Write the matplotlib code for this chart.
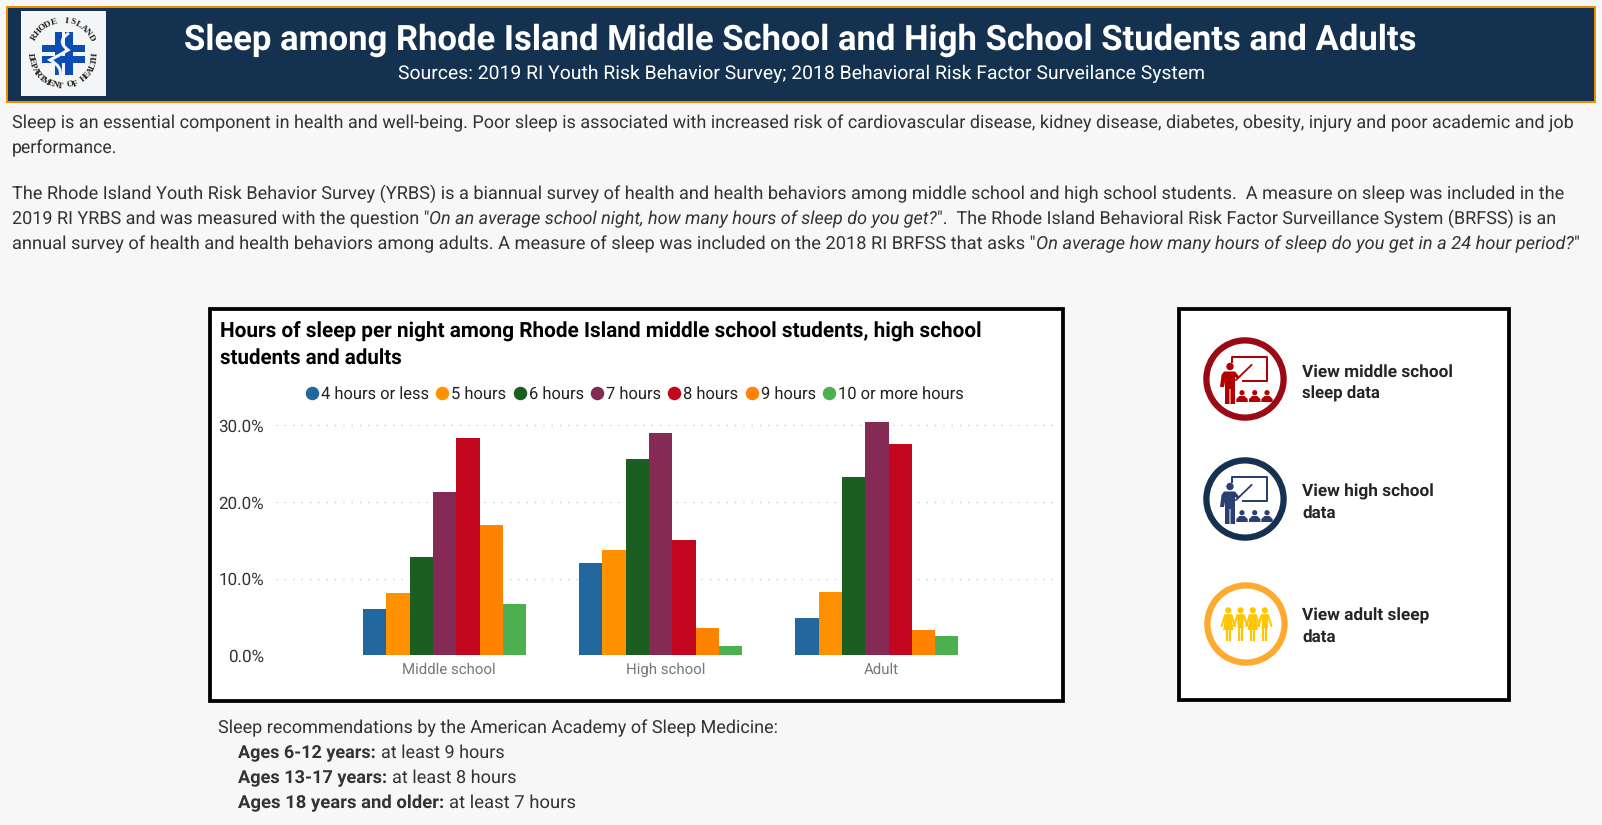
import numpy as np
import matplotlib
matplotlib.use("Agg")
import matplotlib.pyplot as plt
from matplotlib.lines import Line2D
from matplotlib.patches import Circle, Polygon, Rectangle, PathPatch
from matplotlib.path import Path
from matplotlib.transforms import ScaledTranslation

plt.rcParams['font.family'] = ['Roboto', 'DejaVu Sans']
plt.rcParams['text.hinting'] = 'none'      # keeps text widths linear in font size

# chart data
groups = ["Middle school", "High school", "Adult"]
hours = ["4 hours or less", "5 hours", "6 hours", "7 hours", "8 hours", "9 hours", "10 or more hours"]
middle_school = [6.0, 8.1, 12.8, 21.3, 28.3, 17.0, 6.7]
high_school = [12.1, 13.7, 25.6, 29.0, 15.0, 3.6, 1.2]
adult = [4.9, 8.3, 23.3, 30.4, 27.5, 3.3, 2.5]
bar_colors = ["#22689F", "#FF9000", "#1C5E21", "#842A55", "#C2071E", "#FF8300", "#4DB050"]
y_ticks = [0, 10, 20, 30]

title = "Sleep among Rhode Island Middle School and High School Students and Adults"
subtitle = "Sources: 2019 RI Youth Risk Behavior Survey; 2018 Behavioral Risk Factor Surveilance System"
chart_title = ["Hours of sleep per night among Rhode Island middle school students, high school",
               "students and adults"]

W, H = 1602, 825
fig = plt.figure(figsize=(W / 100, H / 100), dpi=100, facecolor="#F7F7F7")
bg = fig.add_axes([0, 0, 1, 1])
bg.set_xlim(0, W)
bg.set_ylim(H, 0)
bg.axis("off")
renderer = fig.canvas.get_renderer()


def px(size):                   # pixels to points
    return size * 0.72


def runs(x, y, parts, size, right=None, color="#333333"):
    # parts = list of (text, weight, style), y is the baseline, right = x of line end
    def build(s):
        out = []
        cur = x
        for txt, weight, style in parts:
            t = bg.text(x=cur, y=y, s=txt, fontsize=px(s), fontweight=weight, fontstyle=style,
                        color=color, va="baseline", ha="left")
            cur += t.get_window_extent(renderer).width
            out.append(t)
        return out, cur
    out, end = build(size)
    if right is not None:
        for _ in range(4):
            size = size * (right - x) / (end - x)
            for t in out:
                t.remove()
            out, end = build(size)
    return out


# header
bg.add_patch(Rectangle((7, 7), 1588, 95, fc="#14324F", ec="#F28C00", lw=1.4))
bg.add_patch(Rectangle((21, 11), 84.5, 85, fc="#F4F5F6", ec="none"))
bg.add_patch(Rectangle((54.5, 32), 7.5, 43, fc="#0B4DB5"))
bg.add_patch(Rectangle((65, 32), 7.5, 43, fc="#0B4DB5"))
bg.add_patch(Rectangle((41.5, 45), 43.5, 7, fc="#0B4DB5"))
bg.add_patch(Rectangle((41.5, 56), 43.5, 6.5, fc="#0B4DB5"))
swirl = Path([(69, 33), (56, 41), (68, 50), (60, 55), (50, 60), (63, 67), (60, 76)],
             [Path.MOVETO, Path.CURVE3, Path.CURVE3, Path.CURVE3, Path.CURVE3, Path.CURVE3, Path.CURVE3])
bg.add_patch(PathPatch(swirl, fc="none", ec="#F4F5F6", lw=2.2))


def arc_text(txt, start, step, top=True):
    for i, ch in enumerate(txt):
        a = np.radians(start + step * i)
        cx = 63 + 32.5 * np.sin(a)
        cy = 53.5 - 32.5 * np.cos(a)
        rot = -np.degrees(a) if top else 180 - np.degrees(a)
        bg.text(cx, cy, ch, fontsize=6.6, family="Liberation Serif", fontweight="bold", color="#222222",
                rotation=rot, rotation_mode="anchor", ha="center", va="center")


arc_text("RHODE ISLAND", -60, 11.0)
arc_text("DEPARTMENT OF HEALTH", 266, -9.0, top=False)

runs(184, 49.3, [(title, "bold", "normal")], 32, right=1418, color="white")
runs(398, 79.3, [(subtitle, "normal", "normal")], 18, right=1204, color="white")

# intro text
N = ("normal", "normal")
I = ("normal", "italic")
B = ("bold", "normal")
runs(12, 128.3, [("Sleep is an essential component in health and well-being. Poor sleep is associated with increased risk of cardiovascular disease, kidney disease, diabetes, obesity, injury and poor academic and job", *N)], 17, right=1577)
runs(12, 153.3, [("performance.", *N)], 17, right=117.5)
runs(12, 199, [("The Rhode Island Youth Risk Behavior Survey (YRBS) is a biannual survey of health and health behaviors among middle school and high school students.  A measure on sleep was included in the", *N)], 17, right=1562)
runs(12, 224, [("2019 RI YRBS and was measured with the question \"", *N),
               ("On an average school night, how many hours of sleep do you get?", *I),
               ("\".  The Rhode Island Behavioral Risk Factor Surveillance System (BRFSS) is an", *N)], 17, right=1559)
runs(12, 249, [("annual survey of health and health behaviors among adults. A measure of sleep was included on the 2018 RI BRFSS that asks \"", *N),
               ("On average how many hours of sleep do you get in a 24 hour period?", *I),
               ("\"", *N)], 17, right=1577)

# chart box and button box
bg.add_patch(Rectangle((209.9, 309.2), 853.5, 391.4, fc="white", ec="black", lw=px(3.8)))
bg.add_patch(Rectangle((1178.5, 309.3), 330.5, 391, fc="white", ec="black", lw=px(3.8)))
runs(220, 337.7, [(chart_title[0], "bold", "normal")], 18, right=983, color="black")
runs(220, 363.3, [(chart_title[1], "bold", "normal")], 17.3, right=402, color="black")

# grouped bars
y0, y30 = 655.3, 425.3
ymax = 31.0
top = y0 - (y0 - y30) * ymax / 30
ax = fig.add_axes([276 / W, (H - y0) / H, (1053 - 276) / W, (y0 - top) / H])
ax.patch.set_alpha(0)
ax.set_xlim(-0.78, 2.815)
ax.set_ylim(0, ymax)
series = np.array([middle_school, high_school, adult])
x = np.arange(len(groups))
bw = 0.1078
for i in range(len(hours)):
    ax.bar(x + (i - 3) * bw, series[:, i], bw, color=bar_colors[i], edgecolor="none", zorder=3)
ax.set_yticks(y_ticks)
ax.set_yticklabels([f"{v:.1f}%" for v in y_ticks], fontsize=px(17), color="#333333")
ax.set_xticks(x)
ax.set_xticklabels(groups, fontsize=px(15), color="#777777")
ax.tick_params(length=0)
ax.tick_params(axis="y", pad=8.5)
ax.tick_params(axis="x", pad=5.5)
# labels sit a little right of the bar groups in the original
for lab in ax.get_xticklabels():
    lab.set_transform(lab.get_transform() + ScaledTranslation(4.5 / 100, 0, fig.dpi_scale_trans))
ax.grid(axis="y", color="#CFCFCF", lw=1.0, linestyle=(0, (1, 5)), zorder=1)
for s in ax.spines.values():
    s.set_visible(False)

handles = [Line2D([], [], marker="o", ls="none", ms=px(13.5), color=c, mew=0) for c in bar_colors]
fig.legend(handles, hours, ncols=7, frameon=False, fontsize=px(16.5), labelcolor="#222222",
           loc="center left", bbox_to_anchor=(305 / W, 1 - 394 / H), borderaxespad=0, borderpad=0,
           handlelength=0.85, handletextpad=0.12, columnspacing=0.38)

# icons
def teacher(cx, cy, ring, fig_col):
    bg.add_patch(Circle((cx, cy), 38.6, fc="white", ec=ring, lw=px(6.3)))
    bg.plot([cx - 12.7, cx - 12.7, cx + 21.7, cx + 21.7, cx - 2.5],
            [cy - 17, cy - 22.3, cy - 22.3, cy + 2.2, cy + 2.2], color=fig_col, lw=px(2))
    bg.plot([cx - 9, cx + 6.5], [cy + 1, cy - 14], color=fig_col, lw=px(1.8))
    bg.add_patch(Circle((cx - 15, cy - 12.5), 3.7, fc=fig_col, ec="none"))
    body = [(cx - 21, cy - 7.5), (cx - 10, cy - 7.5), (cx - 5.5, cy - 2), (cx - 7, cy), (cx - 10, cy - 2),
            (cx - 10, cy + 25), (cx - 14.5, cy + 25), (cx - 14.5, cy + 10), (cx - 15.5, cy + 10),
            (cx - 15.5, cy + 25), (cx - 20, cy + 25), (cx - 20, cy + 3), (cx - 21, cy + 8), (cx - 25, cy + 8),
            (cx - 23.5, cy - 4)]
    bg.add_patch(Polygon(body, fc=fig_col, ec="none"))
    for dx in (-3, 9.7, 22):
        bg.add_patch(Circle((cx + dx, cy + 13.7), 2.6, fc=fig_col, ec="none"))
        bg.add_patch(Polygon([(cx + dx - 5.7, cy + 23), (cx + dx - 5.7, cy + 20), (cx + dx - 2.5, cy + 17),
                              (cx + dx + 2.5, cy + 17), (cx + dx + 5.7, cy + 20), (cx + dx + 5.7, cy + 23)],
                             fc=fig_col, ec="none"))


def family(cx, cy, ring, fig_col):
    bg.add_patch(Circle((cx, cy), 38.6, fc="white", ec=ring, lw=px(6.3)))
    for k, dx in enumerate((-17.7, -5.5, 6.8, 18.8)):
        bg.add_patch(Circle((cx + dx, cy - 13.7), 3.1, fc=fig_col, ec="none"))
        if k % 2 == 0:
            shape = [(cx + dx - 3.0, cy - 9.8), (cx + dx + 3.0, cy - 9.8), (cx + dx + 5.2, cy + 6), (cx + dx - 5.2, cy + 6)]
        else:
            shape = [(cx + dx - 3.4, cy - 9.8), (cx + dx + 3.4, cy - 9.8), (cx + dx + 2.8, cy + 4), (cx + dx - 2.8, cy + 4)]
        bg.add_patch(Polygon(shape, fc=fig_col, ec="none"))
        for side in (-1.6, 1.6):
            bg.plot([cx + dx + side, cx + dx + side], [cy + 2, cy + 17.3], color=fig_col, lw=px(2.2), solid_capstyle="butt")
        bg.plot([cx + dx - 3.2, cx + dx - 6.6], [cy - 8.8, cy + 2], color=fig_col, lw=px(2.0), solid_capstyle="round")
        bg.plot([cx + dx + 3.2, cx + dx + 6.6], [cy - 8.8, cy + 2], color=fig_col, lw=px(2.0), solid_capstyle="round")


teacher(1245, 379, "#9B0A14", "#B30000")
teacher(1245, 499, "#14324F", "#2B4070")
family(1246, 624, "#FFA92E", "#FFC600")

btn = "#252525"
runs(1302, 376.7, [("View middle school", "bold", "normal")], 16.5, right=1452, color=btn)
runs(1302, 398.3, [("sleep data", "bold", "normal")], 16.5, right=1380, color=btn)
runs(1302, 496.7, [("View high school", "bold", "normal")], 16.5, right=1433, color=btn)
runs(1302, 518.3, [("data", "bold", "normal")], 16.5, right=1335.5, color=btn)
runs(1302, 621, [("View adult sleep", "bold", "normal")], 16.5, right=1428.5, color=btn)
runs(1302, 642.3, [("data", "bold", "normal")], 16.5, right=1335.5, color=btn)

# recommendations
runs(218.5, 732.7, [("Sleep recommendations by the American Academy of Sleep Medicine:", *N)], 17, right=779)
runs(238.5, 757.7, [("Ages 6-12 years: ", *B), ("at least 9 hours", *N)], 17, right=505.5)
runs(238.5, 783, [("Ages 13-17 years: ", *B), ("at least 8 hours", *N)], 17, right=516)
runs(238.5, 808, [("Ages 18 years and older: ", *B), ("at least 7 hours", *N)], 17, right=575)

fig.savefig("out.png", dpi=100, facecolor=fig.get_facecolor())
